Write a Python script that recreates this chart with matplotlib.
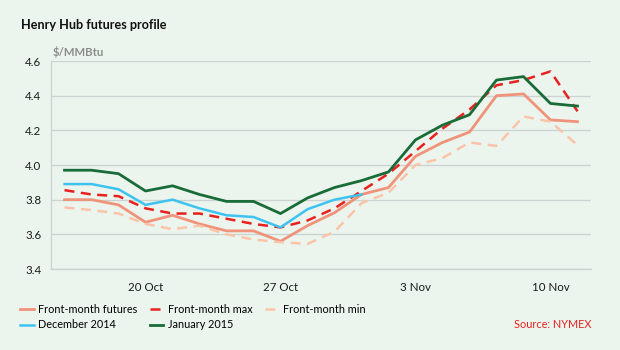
import matplotlib
matplotlib.use("Agg")
import matplotlib.pyplot as plt
import numpy as np

# trading days, 15 Oct - 11 Nov 2014
dates = ["15 Oct", "16 Oct", "17 Oct", "20 Oct", "21 Oct", "22 Oct", "23 Oct", "24 Oct", "27 Oct", "28 Oct",
         "29 Oct", "30 Oct", "31 Oct", "3 Nov", "4 Nov", "5 Nov", "6 Nov", "7 Nov", "10 Nov", "11 Nov"]
tick_labels = ["20 Oct", "27 Oct", "3 Nov", "10 Nov"]

front_month = [3.80, 3.80, 3.77, 3.67, 3.71, 3.66, 3.62, 3.62, 3.56, 3.65,
               3.725, 3.83, 3.87, 4.05, 4.13, 4.19, 4.40, 4.41, 4.26, 4.25]
front_max = [3.855, 3.83, 3.82, 3.75, 3.72, 3.72, 3.69, 3.66, 3.64, 3.68,
             3.75, 3.85, 3.95, 4.08, 4.21, 4.32, 4.46, 4.49, 4.54, 4.31]
front_min = [3.755, 3.74, 3.72, 3.66, 3.63, 3.65, 3.60, 3.57, 3.555, 3.545,
             3.615, 3.78, 3.84, 4.00, 4.04, 4.13, 4.11, 4.28, 4.25, 4.115]
dec_2014 = [3.89, 3.89, 3.86, 3.77, 3.80, 3.75, 3.71, 3.70, 3.64, 3.745,
            3.80, 3.83]
jan_2015 = [3.97, 3.97, 3.95, 3.85, 3.88, 3.83, 3.79, 3.79, 3.72, 3.81,
            3.87, 3.91, 3.96, 4.145, 4.23, 4.29, 4.49, 4.51, 4.355, 4.34]

BG = "#ebf5ee"
GRID = "#cdd3d1"

plt.rcParams["font.family"] = ["Lato", "DejaVu Sans"]

fig = plt.figure(figsize=(6.2, 3.5), dpi=100, facecolor=BG)
ax = fig.add_axes([0.0823, 0.2314, 0.8709, 0.5943], facecolor=BG)

x = np.arange(len(dates))
h_fm, = ax.plot(x, front_month, color="#f0937b", lw=2.0, label="Front-month futures")
h_max, = ax.plot(x, front_max, color="#e8201e", lw=1.8, dashes=(4, 2.6), label="Front-month max")
h_min, = ax.plot(x, front_min, color="#fbc4a9", lw=1.8, dashes=(4, 2.6), label="Front-month min")
h_dec, = ax.plot(x[:len(dec_2014)], dec_2014, color="#3ec3f0", lw=1.8, label="December 2014")
h_jan, = ax.plot(x, jan_2015, color="#196b37", lw=2.0, label="January 2015")

ax.set_xlim(-0.5, len(dates) - 0.5)
ax.set_ylim(3.4, 4.6)
ax.set_yticks(np.arange(3.4, 4.61, 0.2))
ax.set_yticklabels([f"{v:.1f}" for v in np.arange(3.4, 4.61, 0.2)])
ax.set_xticks([dates.index(t) for t in tick_labels])
ax.set_xticklabels(tick_labels)
ax.tick_params(axis="both", length=0, labelsize=8.3, colors="#1a1a1a")
ax.tick_params(axis="x", pad=9)
ax.tick_params(axis="y", pad=7)
ax.grid(axis="y", color=GRID, lw=1.0)
ax.set_axisbelow(True)
for side in ("top", "right"):
    ax.spines[side].set_visible(False)
for side in ("left", "bottom"):
    ax.spines[side].set_color(GRID)
    ax.spines[side].set_linewidth(1.0)

fig.text(21 / 620, 1 - 25 / 350, "Henry Hub futures profile", fontsize=9.1, fontweight="bold",
         color="#111111", va="center", ha="left")
fig.text(53 / 620, 1 - 52 / 350, "$/MMBtu", fontsize=8.2, fontweight="bold", color="#8c8c8c",
         va="center", ha="left")
fig.text(591 / 620, 1 - 325 / 350, "Source: NYMEX", fontsize=7.8, color="#e8201e", va="center", ha="right")

fig.legend(handles=[h_fm, h_dec, h_max, h_jan, h_min], ncol=3, loc="upper left",
           bbox_to_anchor=(18 / 620, 1 - 302 / 350), frameon=False, fontsize=7.8,
           handlelength=1.25, handletextpad=0.4, columnspacing=1.15, labelspacing=0.4,
           borderaxespad=0, borderpad=0.2)

fig.savefig("out.png", dpi=100, facecolor=BG)
